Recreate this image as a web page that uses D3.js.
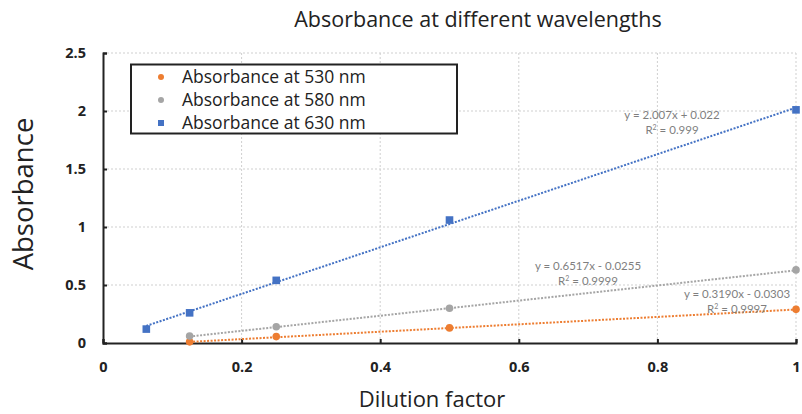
<!DOCTYPE html>
<html>
<head>
<meta charset="utf-8">
<script src="https://cdn.jsdelivr.net/npm/d3@7"></script>
<style>
  body { margin: 0; background: #fff; }
  svg { display: block; }
</style>
</head>
<body>
<script>
// data
const dilution630 = [0.0625, 0.125, 0.25, 0.5, 1];
const abs630 = [0.12, 0.26, 0.54, 1.06, 2.01];
const dilution580 = [0.125, 0.25, 0.5, 1];
const abs580 = [0.06, 0.14, 0.30, 0.63];
const dilution530 = [0.125, 0.25, 0.5, 1];
const abs530 = [0.01, 0.055, 0.13, 0.29];
const seriesNames = ["Absorbance at 530 nm", "Absorbance at 580 nm", "Absorbance at 630 nm"];
const seriesColors = ["#ED7D31", "#A5A5A5", "#4472C4"];
const trendSlope = [0.3190, 0.6517, 2.007];
const trendIntercept = [-0.0303, -0.0255, 0.022];
const trendEquations = ["y = 0.3190x - 0.0303", "y = 0.6517x - 0.0255", "y = 2.007x + 0.022"];
const trendR2 = ["0.9997", "0.9999", "0.999"];
const xTicks = [0, 0.2, 0.4, 0.6, 0.8, 1];
const yTicks = [0, 0.5, 1, 1.5, 2, 2.5];

const series = [
  {xs: dilution530, ys: abs530, shape: "circle"},
  {xs: dilution580, ys: abs580, shape: "circle"},
  {xs: dilution630, ys: abs630, shape: "square"}
].map((s, i) => ({...s, name: seriesNames[i], color: seriesColors[i],
  m: trendSlope[i], b: trendIntercept[i], eq: trendEquations[i], r2: trendR2[i]}));

const width = 802, height = 414;
const margin = {top: 53, right: 6, bottom: 71, left: 103};
const font = "'Open Sans', sans-serif";

const svg = d3.select("body").append("svg")
  .attr("width", width)
  .attr("height", height);

const x = d3.scaleLinear().domain([0, 1]).range([margin.left, width - margin.right]);
const y = d3.scaleLinear().domain([0, 2.5]).range([height - margin.bottom, margin.top]);

// gridlines
svg.append("g").selectAll("line")
  .data(yTicks.slice(1))
  .join("line")
  .attr("x1", x(0)).attr("x2", x(1))
  .attr("y1", d => y(d)).attr("y2", d => y(d))
  .attr("stroke", "#cfcfcf").attr("stroke-width", 1)
  .attr("stroke-dasharray", "2,2");

svg.append("g").selectAll("line")
  .data(xTicks.slice(1))
  .join("line")
  .attr("x1", d => x(d)).attr("x2", d => x(d))
  .attr("y1", y(0)).attr("y2", y(2.5))
  .attr("stroke", "#cfcfcf").attr("stroke-width", 1)
  .attr("stroke-dasharray", "2,2");

// axes
const xAxis = d3.axisBottom(x).tickValues(xTicks).tickSize(-4).tickPadding(19)
  .tickFormat(d => d3.format("~g")(d));
const yAxis = d3.axisLeft(y).tickValues(yTicks).tickSize(-4).tickPadding(17)
  .tickFormat(d => d3.format("~g")(d));

const gx = svg.append("g")
  .attr("transform", `translate(0,${y(0)})`)
  .call(xAxis);
const gy = svg.append("g")
  .attr("transform", `translate(${x(0)},0)`)
  .call(yAxis);

[gx, gy].forEach(g => {
  g.select(".domain").attr("stroke", "#222").attr("stroke-width", 2);
  g.selectAll(".tick line").attr("stroke", "#222").attr("stroke-width", 2);
  g.selectAll(".tick text")
    .attr("font-family", font)
    .attr("font-weight", "bold")
    .attr("font-size", "14.5px")
    .attr("fill", "#222");
});

// trendlines
const line = d3.line().x(d => x(d[0])).y(d => y(d[1]));
svg.append("g").selectAll("path")
  .data(series)
  .join("path")
  .attr("d", s => {
    const x0 = d3.min(s.xs), x1 = d3.max(s.xs);
    return line([[x0, s.m * x0 + s.b], [x1, s.m * x1 + s.b]]);
  })
  .attr("fill", "none")
  .attr("stroke", s => s.color)
  .attr("stroke-width", 2)
  .attr("stroke-dasharray", "2,1.5");

// markers
series.forEach(s => {
  const pts = s.xs.map((v, i) => [v, s.ys[i]]);
  const g = svg.append("g");
  if (s.shape === "circle") {
    g.selectAll("circle").data(pts).join("circle")
      .attr("cx", d => x(d[0])).attr("cy", d => y(d[1]))
      .attr("r", 3.8).attr("fill", s.color);
  } else {
    g.selectAll("rect").data(pts).join("rect")
      .attr("x", d => x(d[0]) - 3.8).attr("y", d => y(d[1]) - 3.8)
      .attr("width", 7.6).attr("height", 7.6).attr("fill", s.color);
  }
});

// trendline labels
const eqPos = [[737, 298], [588, 270], [672, 119]];
series.forEach((s, i) => {
  const t = svg.append("text")
    .attr("x", eqPos[i][0]).attr("y", eqPos[i][1])
    .attr("text-anchor", "middle")
    .attr("font-family", "Lato, 'Open Sans', sans-serif")
    .attr("font-size", "11.5px")
    .attr("fill", "#7f7f7f");
  t.append("tspan").text(s.eq);
  const t2 = t.append("tspan").attr("x", eqPos[i][0]).attr("dy", 15);
  t2.append("tspan").text("R");
  t2.append("tspan").attr("baseline-shift", "super").attr("font-size", "7px").text("2");
  t2.append("tspan").text(" = " + s.r2);
});

// legend
const legend = svg.append("g");
legend.append("rect")
  .attr("x", 131).attr("y", 64.5)
  .attr("width", 326).attr("height", 69)
  .attr("fill", "#fff").attr("stroke", "#222").attr("stroke-width", 2);

series.forEach((s, i) => {
  const cy = 77 + i * 23;
  if (s.shape === "circle") {
    legend.append("circle").attr("cx", 161).attr("cy", cy).attr("r", 3).attr("fill", s.color);
  } else {
    legend.append("rect").attr("x", 158).attr("y", cy - 3).attr("width", 6).attr("height", 6).attr("fill", s.color);
  }
  legend.append("text")
    .attr("x", 182).attr("y", cy + 6)
    .attr("font-family", font)
    .attr("font-size", "17.5px")
    .attr("fill", "#222")
    .text(s.name);
});

// titles
svg.append("text")
  .attr("x", 478).attr("y", 27)
  .attr("text-anchor", "middle")
  .attr("font-family", font)
  .attr("font-size", "21.5px")
  .attr("fill", "#222")
  .text("Absorbance at different wavelengths");

svg.append("text")
  .attr("transform", "translate(33,194) rotate(-90)")
  .attr("text-anchor", "middle")
  .attr("font-family", font)
  .attr("font-size", "27.5px")
  .attr("fill", "#222")
  .text("Absorbance");

svg.append("text")
  .attr("x", 432).attr("y", 407)
  .attr("text-anchor", "middle")
  .attr("font-family", font)
  .attr("font-size", "22px")
  .attr("fill", "#222")
  .text("Dilution factor");
</script>
</body>
</html>
